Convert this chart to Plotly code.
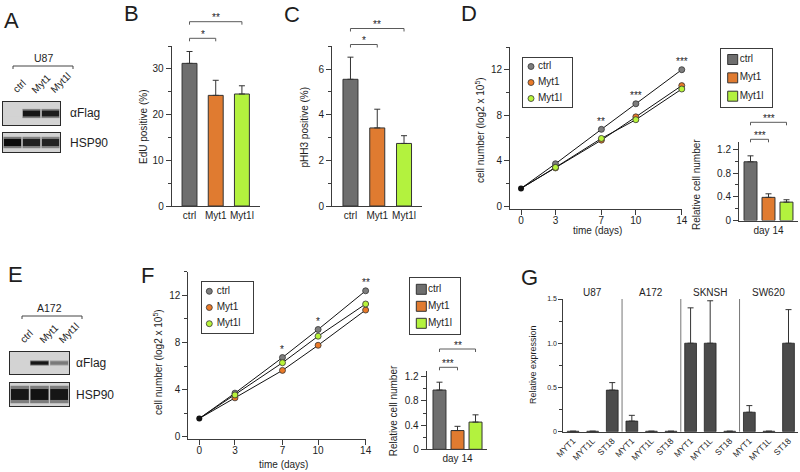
import plotly.graph_objects as go

W, H = 800, 472
FONT = "Liberation Sans, Arial, Helvetica, sans-serif"
TXT = "#1e1e1e"
LINE = "#3c3c3c"

# ---------------- data ----------------
groups = ["ctrl", "Myt1", "Myt1l"]
bar_colors = ["#6e6e6e", "#e07b30", "#b3f23e"]
dot_colors = ["#7d7d7d", "#ea7a28", "#b8f43a"]

# B: EdU
edu_mean = [31.2, 24.2, 24.5]
edu_top = [33.8, 27.5, 26.3]
edu_sig = [(0, 1, "*"), (0, 2, "**")]

# C: pHH3
phh3_mean = [5.55, 3.42, 2.74]
phh3_top = [6.52, 4.24, 3.08]
phh3_sig = [(0, 1, "*"), (0, 2, "**")]

# D: U87 growth
days = [0, 3, 7, 10, 14]
u87_ctrl = [1.55, 3.72, 6.75, 9.0, 12.0]
u87_myt1 = [1.55, 3.35, 5.8, 7.85, 10.6]
u87_myt1l = [1.55, 3.4, 5.95, 7.6, 10.3]
u87_stars = ["", "", "**", "***", "***"]
u87_day14 = [0.99, 0.39, 0.31]
u87_day14_top = [1.09, 0.45, 0.35]
u87_day14_sig = [(0, 1, "***"), (0, 2, "***")]

# F: A172 growth
a172_ctrl = [1.55, 3.7, 6.72, 9.1, 12.38]
a172_myt1 = [1.55, 3.3, 5.63, 7.76, 10.75]
a172_myt1l = [1.55, 3.55, 6.28, 8.53, 11.26]
a172_stars = ["", "", "*", "*", "**"]
a172_day14 = [0.98, 0.31, 0.45]
a172_day14_top = [1.11, 0.38, 0.57]
a172_day14_sig = [(0, 1, "***"), (0, 2, "**")]

# G: expression
cell_lines = ["U87", "A172", "SKNSH", "SW620"]
genes = ["MYT1", "MYT1L", "ST18"]
expr_mean = [0.005, 0.005, 0.47, 0.12, 0.005, 0.005, 1.0, 1.0, 0.005, 0.22, 0.005, 1.0]
expr_top = [None, None, 0.555, 0.185, None, None, 1.40, 1.48, None, 0.295, None, 1.38]

# blots (band intensity per lane)
lanes = ["ctrl", "Myt1", "Myt1l"]
u87_flag = [0.0, 0.95, 0.92]
u87_hsp90 = [1.0, 0.9, 0.88]
a172_flag = [0.0, 0.95, 0.45]
a172_hsp90 = [0.95, 0.97, 0.95]

# ---------------- helpers ----------------
fig = go.Figure()
layout = dict(template="none", width=W, height=H, margin=dict(l=0, r=0, t=0, b=0, pad=0),
              autosize=False,
              paper_bgcolor="white", plot_bgcolor="rgba(0,0,0,0)",
              font=dict(family=FONT, size=10, color=TXT), showlegend=False,
              barmode="overlay")
annotations, shapes = [], []


def xr(n):
    return "x" if n == 1 else f"x{n}"


def yr(n):
    return "y" if n == 1 else f"y{n}"


BASE_AX = dict(showline=True, linecolor=LINE, linewidth=1, ticks="outside",
               tickcolor=LINE, ticklen=5, tickwidth=1, showgrid=False,
               zeroline=False, fixedrange=True, automargin=False,
               tickfont=dict(size=10, color=TXT, family=FONT))


def axes(n, x0, x1, ybot, ytop, xrange, yrange, xkw=None, ykw=None):
    xa = dict(BASE_AX)
    xa.update(domain=[x0 / W, x1 / W], range=xrange, anchor=yr(n))
    xa.update(xkw or {})
    ya = dict(BASE_AX)
    ya.update(domain=[1 - ybot / H, 1 - ytop / H], range=yrange, anchor=xr(n))
    ya.update(ykw or {})
    layout["xaxis" if n == 1 else f"xaxis{n}"] = xa
    layout["yaxis" if n == 1 else f"yaxis{n}"] = ya


def text(x, y, s, size=10, xanchor="center", yanchor="middle", angle=0,
         xref="paper", yref="paper", **kw):
    if xref == "paper":
        x = x / W
    if yref == "paper":
        y = 1 - y / H
    annotations.append(dict(x=x, y=y, xref=xref, yref=yref, text=s,
                            showarrow=False, textangle=angle,
                            font=dict(size=size, color=TXT, family=FONT),
                            xanchor=xanchor, yanchor=yanchor, **kw))


def bracket(n, i, j, ypx, label, drop=3):
    y0 = 1 - (ypx + drop) / H
    y1 = 1 - ypx / H
    shapes.append(dict(type="path", xref=xr(n), yref="paper",
                       path=f"M {i},{y0} L {i},{y1} L {j},{y1} L {j},{y0}",
                       line=dict(color="#5a5a5a", width=1)))
    text((i + j) / 2, ypx - 4, label, size=10, xref=xr(n))


def bar_panel(n, means, tops, width):
    for k, g in enumerate(groups):
        fig.add_trace(go.Bar(
            x=[k], y=[means[k]], width=width, name=g,
            marker=dict(color=bar_colors[k], line=dict(color="#333", width=1)),
            error_y=dict(type="data", symmetric=False, array=[tops[k] - means[k]],
                         arrayminus=[0], color="#333", thickness=1, width=3),
            xaxis=xr(n), yaxis=yr(n)))


def growth_panel(n, series, stars):
    for vals in series:
        fig.add_trace(go.Scatter(x=days, y=vals, mode="lines",
                                 line=dict(color="#111", width=1),
                                 xaxis=xr(n), yaxis=yr(n), cliponaxis=False))
    for k, vals in enumerate(series):
        fig.add_trace(go.Scatter(x=days[1:], y=vals[1:], mode="markers",
                                 marker=dict(color=dot_colors[k], size=6,
                                             line=dict(color="#333", width=0.8)),
                                 xaxis=xr(n), yaxis=yr(n), cliponaxis=False))
    fig.add_trace(go.Scatter(x=days[:1], y=series[0][:1], mode="markers",
                             marker=dict(color="#111", size=6),
                             xaxis=xr(n), yaxis=yr(n), cliponaxis=False))
    top = [max(v) for v in zip(*series)]
    for d, t, s in zip(days, top, stars):
        if s:
            annotations.append(dict(x=d, y=t, xref=xr(n), yref=yr(n), text=s,
                                    showarrow=False, yshift=8,
                                    font=dict(size=10, color=TXT, family=FONT)))


def legend_box(n, x0, x1, ytop, ybot, kind, mx, tx, pad):
    h = ybot - ytop
    step = (h - 2 * pad) / (len(groups) - 1)
    ys = [pad + i * step for i in range(len(groups))]
    axes(n, x0, x1, ybot, ytop, [0, x1 - x0], [h, 0],
         xkw=dict(ticks="", showticklabels=False, mirror=True),
         ykw=dict(ticks="", showticklabels=False, mirror=True))
    if kind == "dot":
        mk = dict(color=dot_colors, size=6, line=dict(color="#333", width=0.8))
    else:
        mk = dict(color=bar_colors, size=10, symbol="square",
                  line=dict(color="#333", width=1))
    fig.add_trace(go.Scatter(x=[mx] * 3, y=ys, mode="markers", marker=mk,
                             xaxis=xr(n), yaxis=yr(n), cliponaxis=False))
    fig.add_trace(go.Scatter(x=[tx] * 3, y=ys, mode="text", text=groups,
                             textposition="middle right",
                             textfont=dict(size=10, color=TXT, family=FONT),
                             xaxis=xr(n), yaxis=yr(n), cliponaxis=False))


BLOT_BG = "#d3d3d3"


def blot(n, x0, x1, ybot, ytop, intens, thick, center=0.0):
    axes(n, x0, x1, ybot, ytop, [-0.5, 2.5], [-1, 1],
         xkw=dict(ticks="", showticklabels=False, mirror=True, linewidth=1.2, linecolor="#2a2a2a"),
         ykw=dict(ticks="", showticklabels=False, mirror=True, linewidth=1.2, linecolor="#2a2a2a"))
    shapes.append(dict(type="rect", xref=f"{xr(n)} domain", yref=f"{yr(n)} domain",
                       x0=0, x1=1, y0=0, y1=1, fillcolor=BLOT_BG,
                       line=dict(width=0), layer="below"))
    cs = [[0, BLOT_BG], [1, "#0c0c0c"]]
    # soft halo then core
    fig.add_trace(go.Bar(x=[0, 1, 2], y=[thick * 1.6] * 3,
                         base=[center - thick * 0.8] * 3, width=0.95,
                         marker=dict(color=[v * 0.45 for v in intens], colorscale=cs,
                                     cmin=0, cmax=1, line=dict(width=0)),
                         xaxis=xr(n), yaxis=yr(n)))
    fig.add_trace(go.Bar(x=[0, 1, 2], y=[thick] * 3,
                         base=[center - thick / 2] * 3, width=0.9,
                         marker=dict(color=intens, colorscale=cs, cmin=0, cmax=1,
                                     line=dict(width=0)),
                         xaxis=xr(n), yaxis=yr(n)))


# ---------------- panel B ----------------
axes(1, 171.7, 260, 206, 46, [-0.68, 2.69], [0, 35],
     xkw=dict(tickvals=[0, 1, 2], ticktext=groups, ticks=""),
     ykw=dict(tickvals=[0, 10, 20, 30],
              minor=dict(dtick=5, tick0=0, ticks="outside", ticklen=3, tickcolor=LINE)))
bar_panel(1, edu_mean, edu_top, 0.57)
for (i, j, s), ypx in zip(edu_sig, [38.3, 21.7]):
    bracket(1, i, j, ypx, s)
text(143, 127, "EdU positive (%)", angle=-90)

# ---------------- panel C ----------------
axes(2, 332, 421.7, 206, 46.2, [-0.69, 2.66], [0, 7],
     xkw=dict(tickvals=[0, 1, 2], ticktext=groups, ticks=""),
     ykw=dict(tickvals=[0, 2, 4, 6],
              minor=dict(dtick=1, tick0=0, ticks="outside", ticklen=3, tickcolor=LINE)))
bar_panel(2, phh3_mean, phh3_top, 0.56)
for (i, j, s), ypx in zip(phh3_sig, [44.5, 28.5]):
    bracket(2, i, j, ypx, s)
text(303.5, 127, "pHH3 positive (%)", angle=-90)

# ---------------- panel D ----------------
axes(3, 510, 682, 208.5, 47, [-0.96, 14.02], [-0.22, 14],
     xkw=dict(tickvals=days, ticklabelstandoff=-3),
     ykw=dict(tickvals=[0, 4, 8, 12],
              minor=dict(dtick=2, tick0=0, ticks="outside", ticklen=3, tickcolor=LINE)))
growth_panel(3, [u87_ctrl, u87_myt1, u87_myt1l], u87_stars)
text(480, 130, "cell number (log2 x 10<sup>5</sup>)", angle=-90)
text(597, 231, "time (days)")
legend_box(12, 523, 572, 58, 107, "dot", 8, 15, 8.5)

axes(4, 739, 798, 220.5, 141.6, [-0.64, 2.64], [0, 1.33],
     xkw=dict(tickvals=[1], ticktext=["day 14"], ticks=""),
     ykw=dict(tickvals=[0, 0.4, 0.8, 1.2], ticktext=["0", "0.4", "0.8", "1.2"],
              minor=dict(dtick=0.2, tick0=0, ticks="outside", ticklen=3, tickcolor=LINE)))
bar_panel(4, u87_day14, u87_day14_top, 0.72)
for (i, j, s), ypx in zip(u87_day14_sig, [139.3, 122.3]):
    bracket(4, i, j, ypx, s)
text(697, 185, "Relative cell number", angle=-90)
legend_box(13, 720.7, 771.7, 49, 106.7, "bar", 12, 19, 10.5)

# ---------------- panel F ----------------
axes(5, 188.3, 366, 439, 271.7, [-0.925, 14.03], [-0.19, 14],
     xkw=dict(tickvals=days, ticklabelstandoff=-3),
     ykw=dict(tickvals=[0, 4, 8, 12],
              minor=dict(dtick=2, tick0=0, ticks="outside", ticklen=3, tickcolor=LINE)))
growth_panel(5, [a172_ctrl, a172_myt1, a172_myt1l], a172_stars)
text(158, 362, "cell number (log2 x 10<sup>5</sup>)", angle=-90)
text(283, 464, "time (days)")
legend_box(14, 201.7, 252.7, 282.3, 332.7, "dot", 7.6, 15, 9)

axes(6, 426.7, 486.7, 449.3, 370.7, [-0.71, 2.62], [0, 1.3],
     xkw=dict(tickvals=[1], ticktext=["day 14"], ticks=""),
     ykw=dict(tickvals=[0, 0.4, 0.8, 1.2], ticktext=["0", "0.4", "0.8", "1.2"],
              minor=dict(dtick=0.2, tick0=0, ticks="outside", ticklen=3, tickcolor=LINE)))
bar_panel(6, a172_day14, a172_day14_top, 0.72)
for (i, j, s), ypx in zip(a172_day14_sig, [367.3, 349]):
    bracket(6, i, j, ypx, s)
text(393.3, 411, "Relative cell number", angle=-90)
legend_box(15, 410, 460, 278.3, 334.3, "bar", 11.3, 18, 11)

# ---------------- panel G ----------------
xs = list(range(len(expr_mean)))
axes(7, 563.3, 798.3, 431.7, 299, [-0.5, 11.5], [0, 1.5],
     xkw=dict(tickvals=xs, ticktext=genes * len(cell_lines), tickangle=-45, ticks="",
              tickfont=dict(size=8.5, color=TXT, family=FONT)),
     ykw=dict(tickvals=[0, 0.5, 1.0, 1.5], ticktext=["0", "0.5", "1.0", "1.5"],
              ticklen=4, tickfont=dict(size=7, color=TXT, family=FONT),
              minor=dict(dtick=0.25, tick0=0, ticks="outside", ticklen=3, tickcolor=LINE)))
fig.add_trace(go.Bar(
    x=xs, y=expr_mean, width=0.6,
    marker=dict(color="#4b4b4b", line=dict(color="#222", width=0.8)),
    error_y=dict(type="data", symmetric=False,
                 array=[(t - m) if t is not None else None for t, m in zip(expr_top, expr_mean)],
                 arrayminus=[0] * len(xs), color="#333", thickness=1, width=3),
    xaxis=xr(7), yaxis=yr(7)))
ng = len(genes)
for k, cl in enumerate(cell_lines):
    if k > 0:
        xb = k * ng - 0.5
        shapes.append(dict(type="line", xref=xr(7), yref=f"{yr(7)} domain",
                           x0=xb, x1=xb, y0=0, y1=1, line=dict(color="#777", width=1)))
    text(k * ng + (ng - 1) / 2, 292, cl, size=10, xref=xr(7))
text(533, 365, "Relative expression", size=9, angle=-90)

# ---------------- blots A / E ----------------
blot(8, 3, 60, 125, 102, u87_flag, 0.5)
blot(9, 3, 60, 152, 133, u87_hsp90, 0.75)
blot(10, 10, 69, 374, 352, a172_flag, 0.3)
blot(11, 10, 69, 406, 383, a172_hsp90, 0.95)

text(43, 58, "U87", size=10.5)
shapes.append(dict(type="path", xref="paper", yref="paper",
                   path=f"M {13/W},{1-69/H} L {13/W},{1-66/H} L {73/W},{1-66/H} L {73/W},{1-69/H}",
                   line=dict(color="#444", width=1)))
for k, ln in enumerate(lanes):
    text(k - 0.25, 98, ln, size=10, xanchor="left", yanchor="bottom", angle=-45, xref=xr(8))
text(68, 113, "αFlag", size=12, xanchor="left")
text(68, 143, "HSP90", size=12, xanchor="left")

text(49, 308, "A172", size=10.5)
shapes.append(dict(type="path", xref="paper", yref="paper",
                   path=f"M {22/W},{1-319/H} L {22/W},{1-316/H} L {82/W},{1-316/H} L {82/W},{1-319/H}",
                   line=dict(color="#444", width=1)))
for k, ln in enumerate(lanes):
    text(k - 0.25, 348, ln, size=10, xanchor="left", yanchor="bottom", angle=-45, xref=xr(10))
text(74, 363, "αFlag", size=12, xanchor="left")
text(74, 395, "HSP90", size=12, xanchor="left")

# ---------------- panel letters ----------------
for s, x, y in [("A", 2, 20), ("B", 122, 13), ("C", 282, 14), ("D", 459, 13),
                ("E", 6, 274), ("F", 139, 275), ("G", 519, 277)]:
    text(x, y, s, size=22, xanchor="left")

for tr in fig.data:
    tr.update(hoverinfo="skip")
layout["annotations"] = annotations
layout["shapes"] = shapes
fig.update_layout(**layout)
fig.write_html("out.html", config={"displayModeBar": False, "staticPlot": True},
               post_script="document.body.style.margin='0';document.body.style.padding='0';"
                           "document.body.style.overflow='hidden';")
